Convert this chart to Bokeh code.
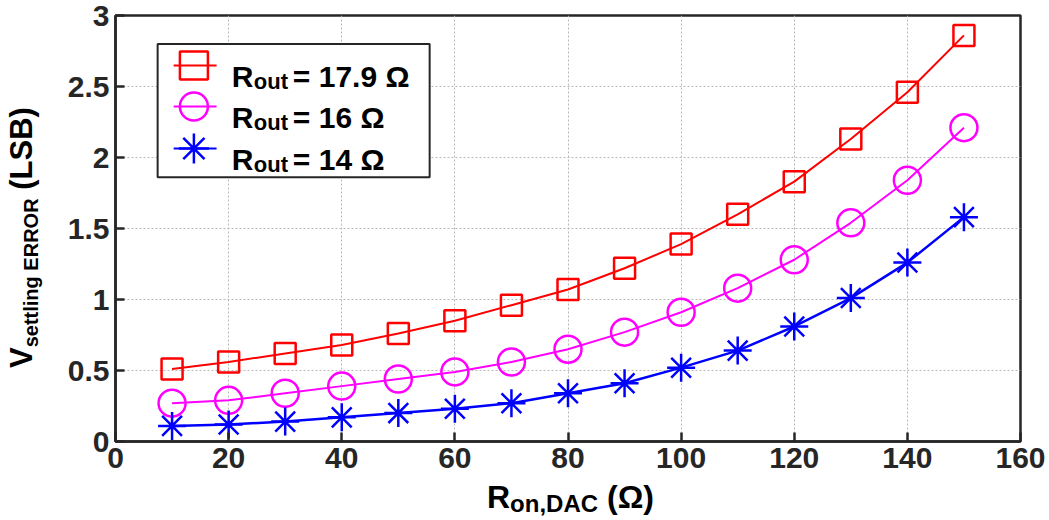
from bokeh.plotting import figure
from bokeh.models import Range1d, FixedTicker, Label, Div
from bokeh.layouts import column, row
from bokeh.embed import file_html
from bokeh.resources import INLINE

# ---- data ----
r_on = [10, 20, 30, 40, 50, 60, 70, 80, 90, 100, 110, 120, 130, 140, 150]
err_179 = [0.51, 0.56, 0.62, 0.68, 0.76, 0.85, 0.96, 1.07, 1.22, 1.39, 1.60, 1.83, 2.13, 2.46, 2.86]
err_16 = [0.27, 0.29, 0.34, 0.39, 0.44, 0.49, 0.56, 0.65, 0.77, 0.91, 1.08, 1.28, 1.54, 1.84, 2.21]
err_14 = [0.11, 0.12, 0.14, 0.17, 0.20, 0.23, 0.27, 0.34, 0.41, 0.52, 0.64, 0.81, 1.01, 1.26, 1.58]
x_ticks = [0, 20, 40, 60, 80, 100, 120, 140, 160]
y_ticks = [0, 0.5, 1, 1.5, 2, 2.5, 3]
y_tick_labels = ["0", "0.5", "1", "1.5", "2", "2.5", "3"]
legend_values = ["= 17.9 \u03a9", "= 16 \u03a9", "= 14 \u03a9"]

FONT = "Liberation Sans"
DARK = "#262626"
RED, MAG, BLUE = "#ff0000", "#ff00ff", "#0000ff"

YDIV_W = 45
P_H = 482

p = figure(width=1049 - YDIV_W, height=P_H, output_backend="svg", toolbar_location=None,
           x_range=Range1d(0, 160), y_range=Range1d(0, 3),
           min_border_left=115 - YDIV_W, min_border_right=29, min_border_top=15,
           min_border_bottom=P_H - 441, margin=0)
p.background_fill_color = "white"
p.border_fill_color = "white"
p.outline_line_color = DARK
p.outline_line_width = 2.5

for ax in (p.xaxis[0], p.yaxis[0]):
    ax.axis_line_color = DARK
    ax.axis_line_width = 2.5
    ax.major_tick_line_color = DARK
    ax.major_tick_line_width = 2.5
    ax.major_tick_in = 9
    ax.major_tick_out = 0
    ax.minor_tick_line_color = None
    ax.major_label_text_font = FONT
    ax.major_label_text_font_style = "bold"
    ax.major_label_text_font_size = "30px"
    ax.major_label_text_color = DARK

p.xaxis.ticker = FixedTicker(ticks=x_ticks)
p.yaxis.ticker = FixedTicker(ticks=y_ticks)
p.yaxis.major_label_overrides = {t: s for t, s in zip(y_ticks, y_tick_labels)}
p.xaxis.major_label_standoff = 6
p.yaxis.major_label_standoff = 6

p.xgrid.ticker = FixedTicker(ticks=x_ticks)
p.ygrid.ticker = FixedTicker(ticks=y_ticks)
for g in (p.xgrid[0], p.ygrid[0]):
    g.grid_line_color = "#b8b8b8"
    g.grid_line_dash = "2 2"
    g.grid_line_width = 1

# ---- data series ----
p.line(r_on, err_179, line_color=RED, line_width=2)
p.scatter(r_on, err_179, marker="square", size=21, fill_color=None, line_color=RED, line_width=2.5)
p.line(r_on, err_16, line_color=MAG, line_width=2)
p.scatter(r_on, err_16, marker="circle", size=27, fill_color=None, line_color=MAG, line_width=2.5)
p.line(r_on, err_14, line_color=BLUE, line_width=2.5)
p.scatter(r_on, err_14, marker="asterisk", size=28, line_color=BLUE, line_width=2.5)

# ---- legend (drawn manually to allow subscripts) ----
p.quad(left=[7.45], right=[55.54], top=[2.80], bottom=[1.861],
       fill_color="white", line_color=DARK, line_width=2)
rows_y = [2.648, 2.359, 2.063]
styles = [("square", 28, RED), ("circle", 28, MAG), ("asterisk", 30, BLUE)]
for yy, (mk, sz, col), val in zip(rows_y, styles, legend_values):
    p.line([10.28, 17.87], [yy, yy], line_color=col, line_width=2)
    if mk == "asterisk":
        p.scatter([13.86], [yy], marker=mk, size=sz, line_color=col, line_width=2.5)
    else:
        p.scatter([13.86], [yy], marker=mk, size=sz, fill_color=None, line_color=col, line_width=2.5)
    common = dict(x=20.57, y=yy, text_font=FONT, text_font_style="bold", text_color="black",
                  text_baseline="alphabetic", text_align="left")
    p.add_layout(Label(text="R", text_font_size="30px", y_offset=-11, **common))
    p.add_layout(Label(text="out", text_font_size="22px", x_offset=22, y_offset=-16, **common))
    p.add_layout(Label(text=val, text_font_size="30px", x_offset=61, y_offset=-11, **common))

# ---- axis titles as HTML (subscripts) ----
base_css = ("position:absolute; white-space:nowrap; font-family:'Liberation Sans',Arial,sans-serif;"
            " font-weight:bold; color:black; line-height:30px;")
ytitle_html = (
    f'<div style="position:relative; width:{YDIV_W}px; height:{P_H}px;">'
    f'<div style="{base_css} font-size:31px; left:7px; top:368px; transform:rotate(-90deg); transform-origin:0 0;">'
    'V<span style="font-size:20px; position:relative; top:6px;">settling ERROR</span> (LSB)'
    '</div></div>'
)
xtitle_html = (
    f'<div style="position:relative; width:1049px; height:{520 - P_H}px;">'
    f'<div style="{base_css} font-size:32px; left:487px; top:0px;">'
    'R<span style="font-size:24px; position:relative; top:4px;">on,DAC</span> (\u03a9)'
    '</div></div>'
)
ydiv = Div(text=ytitle_html, width=YDIV_W, height=P_H, margin=0)
xdiv = Div(text=xtitle_html, width=1049, height=520 - P_H, margin=0)

layout = column(row(ydiv, p, spacing=0, margin=0), xdiv, spacing=0, margin=0)

open("out.html", "w").write(file_html(layout, INLINE))
